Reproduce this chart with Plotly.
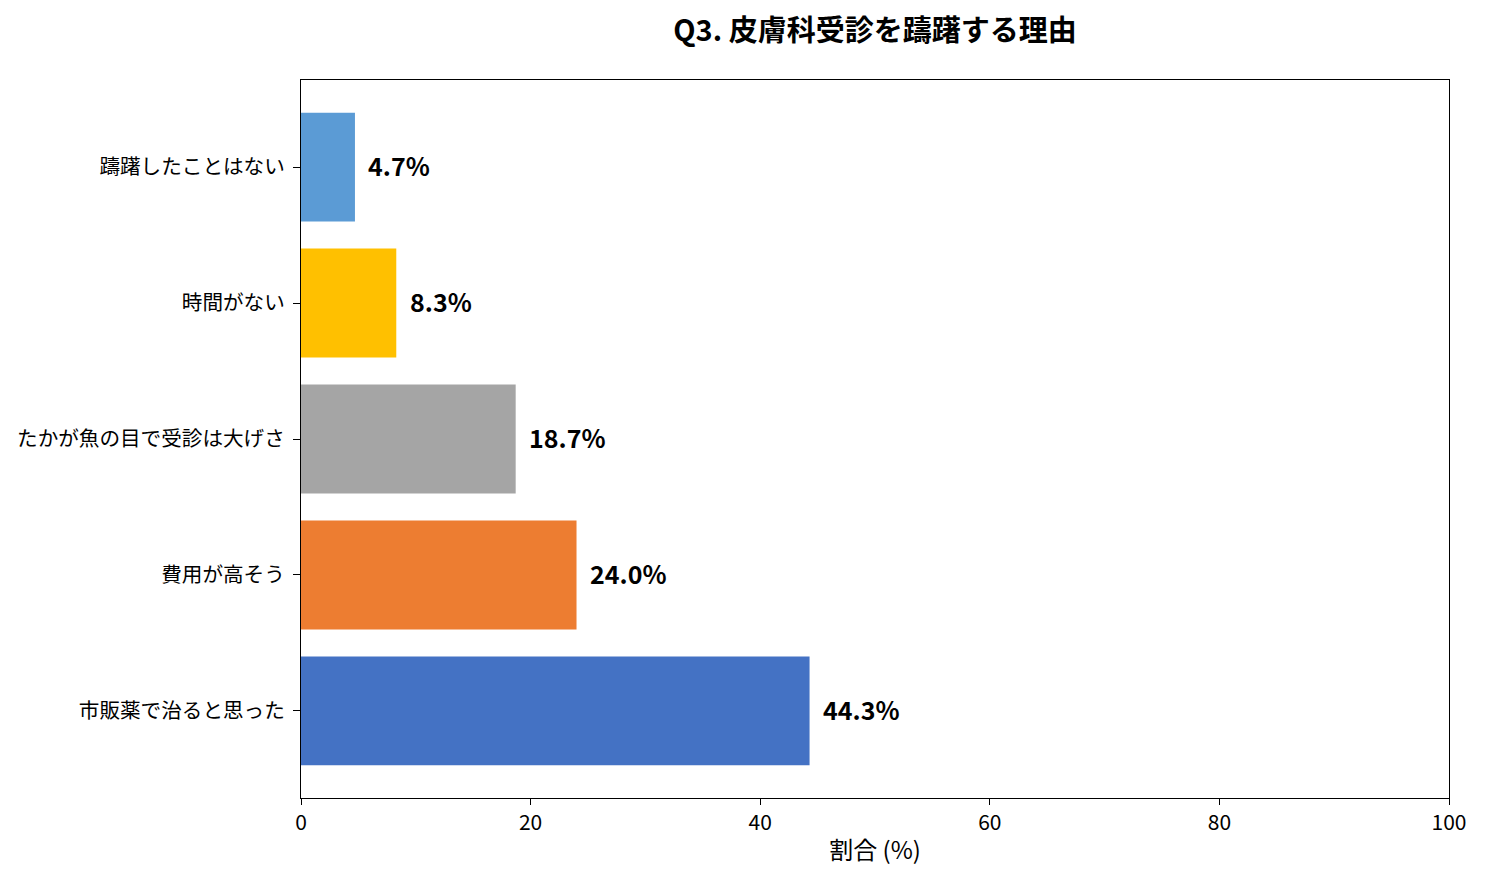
import plotly.graph_objects as go

categories = ["市販薬で治ると思った", "費用が高そう", "たかが魚の目で受診は大げさ", "時間がない", "躊躇したことはない"]
values = [44.3, 24.0, 18.7, 8.3, 4.7]
colors = ["#4472C4", "#ED7D31", "#A5A5A5", "#FFC000", "#5B9BD5"]
x_ticks = [0, 20, 40, 60, 80, 100]

FONT = "Noto Sans CJK JP"

fig = go.Figure()
fig.add_trace(go.Bar(
    y=categories, x=values, orientation="h",
    marker=dict(color=colors, line=dict(width=0)),
    width=0.8, hoverinfo="skip",
))

for c, v in zip(categories, values):
    fig.add_annotation(
        x=v + 1, y=c, text=f"<b>{v:.1f}%</b>", showarrow=False,
        xanchor="left", yanchor="middle", yshift=2,
        font=dict(family=FONT, size=25, color="black"),
    )

fig.update_layout(
    width=1485, height=881,
    margin=dict(l=293, r=44, t=72, b=91, autoexpand=False),
    paper_bgcolor="white", plot_bgcolor="white",
    showlegend=False,
    title=dict(text="<b>Q3. 皮膚科受診を躊躇する理由</b>", x=0.5, xanchor="center",
               xref="paper", y=1 - 23 / 881, yanchor="middle",
               font=dict(family=FONT, size=29, color="black")),
    font=dict(family=FONT, size=20, color="black"),
)
fig.update_xaxes(
    range=[0, 100], tickvals=x_ticks, ticktext=[str(t) for t in x_ticks],
    showgrid=False, zeroline=False, automargin=False,
    showline=True, linecolor="black", linewidth=1.2, mirror=True,
    ticks="outside", ticklen=6, tickcolor="black",
    tickfont=dict(family=FONT, size=21),
    title=dict(text="割合 (%)", font=dict(family=FONT, size=24), standoff=6),
)
fig.update_yaxes(
    range=[-0.64, 4.64], categoryorder="array", categoryarray=categories,
    showgrid=False, zeroline=False, automargin=False,
    showline=True, linecolor="black", linewidth=1.2, mirror=True,
    ticks="outside", ticklen=7, tickcolor="black", ticklabelstandoff=4,
    tickfont=dict(family=FONT, size=20.6),
)

fig.write_html("out.html")
